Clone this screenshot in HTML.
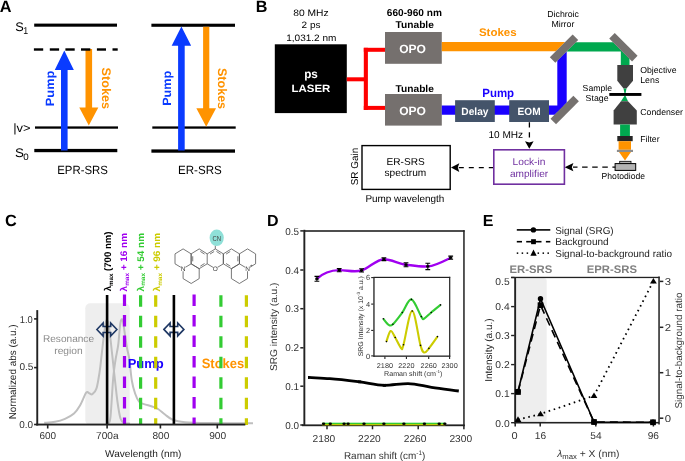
<!DOCTYPE html>
<html><head><meta charset="utf-8"><style>
html,body{margin:0;padding:0;background:#fff;}
svg{display:block;font-family:"Liberation Sans", sans-serif;will-change:transform;text-rendering:geometricPrecision;}
</style></head><body>
<svg width="685" height="461" viewBox="0 0 685 461">
<rect width="685" height="461" fill="#fff"/>
<text x="-0.20" y="11.80" font-size="16.3" font-weight="bold" fill="#000" text-anchor="start" >A</text>
<rect x="34.20" y="23.60" width="82.80" height="3.10" fill="#000" />
<rect x="35.00" y="126.40" width="83.00" height="2.30" fill="#000" />
<rect x="34.30" y="148.90" width="83.00" height="3.30" fill="#000" />
<polygon points="64.30,50.40 73.85,69.90 67.60,69.90 67.60,150.50 61.00,150.50 61.00,69.90 54.75,69.90" fill="#0a3bff" />
<polygon points="85.50,49.00 92.10,49.00 92.10,107.50 98.35,107.50 88.80,125.50 79.25,107.50 85.50,107.50" fill="#ff9300" />
<rect x="33.90" y="48.30" width="9.30" height="2.40" fill="#000" />
<rect x="49.80" y="48.30" width="9.30" height="2.40" fill="#000" />
<rect x="65.40" y="48.30" width="9.30" height="2.40" fill="#000" />
<rect x="81.00" y="48.30" width="9.30" height="2.40" fill="#000" />
<rect x="96.90" y="48.30" width="9.10" height="2.40" fill="#000" />
<rect x="112.50" y="48.30" width="5.20" height="2.40" fill="#000" />
<text transform="translate(53.75,88.45) rotate(-90)" x="0" y="0" font-size="12" font-weight="bold" fill="#0a3bff" text-anchor="middle" textLength="35.50" lengthAdjust="spacingAndGlyphs" >Pump</text>
<text transform="translate(101.60,88.30) rotate(90)" x="0" y="0" font-size="12.5" font-weight="bold" fill="#ff9300" text-anchor="middle" textLength="41.60" lengthAdjust="spacingAndGlyphs" >Stokes</text>
<text x="19.50" y="30.50" font-size="12.5" font-weight="normal" fill="#000" text-anchor="middle" textLength="8.52" lengthAdjust="spacingAndGlyphs" >S</text>
<text x="25.60" y="33.80" font-size="10" font-weight="normal" fill="#000" text-anchor="middle" textLength="4.90" lengthAdjust="spacingAndGlyphs" >1</text>
<text x="21.85" y="132.30" font-size="12" font-weight="normal" fill="#000" text-anchor="middle" textLength="17.38" lengthAdjust="spacingAndGlyphs" >|v&gt;</text>
<text x="19.40" y="157.20" font-size="12.5" font-weight="normal" fill="#000" text-anchor="middle" textLength="8.93" lengthAdjust="spacingAndGlyphs" >S</text>
<text x="26.00" y="160.00" font-size="9.3" font-weight="normal" fill="#000" text-anchor="middle" textLength="5.44" lengthAdjust="spacingAndGlyphs" >0</text>
<text x="82.60" y="173.50" font-size="12" font-weight="normal" fill="#000" text-anchor="middle" textLength="50.68" lengthAdjust="spacingAndGlyphs" >EPR-SRS</text>
<rect x="151.40" y="23.70" width="83.60" height="3.10" fill="#000" />
<rect x="152.30" y="126.40" width="83.40" height="2.30" fill="#000" />
<rect x="151.40" y="149.40" width="83.60" height="3.30" fill="#000" />
<polygon points="181.40,26.60 191.15,45.70 184.70,45.70 184.70,150.50 178.10,150.50 178.10,45.70 171.65,45.70" fill="#0a3bff" />
<polygon points="203.10,26.80 209.30,26.80 209.30,108.30 216.05,108.30 206.20,126.70 196.35,108.30 203.10,108.30" fill="#ff9300" />
<text transform="translate(171.00,88.30) rotate(-90)" x="0" y="0" font-size="12" font-weight="bold" fill="#0a3bff" text-anchor="middle" textLength="35.00" lengthAdjust="spacingAndGlyphs" >Pump</text>
<text transform="translate(218.40,88.50) rotate(90)" x="0" y="0" font-size="12.5" font-weight="bold" fill="#ff9300" text-anchor="middle" textLength="41.20" lengthAdjust="spacingAndGlyphs" >Stokes</text>
<text x="199.85" y="173.50" font-size="12" font-weight="normal" fill="#000" text-anchor="middle" textLength="43.78" lengthAdjust="spacingAndGlyphs" >ER-SRS</text>
<text x="255.70" y="11.80" font-size="16.2" font-weight="bold" fill="#000" text-anchor="start" >B</text>
<text x="310.95" y="16.00" font-size="9.3" font-weight="normal" fill="#000" text-anchor="middle" textLength="35.34" lengthAdjust="spacingAndGlyphs" >80 MHz</text>
<text x="311.00" y="28.30" font-size="9.3" font-weight="normal" fill="#000" text-anchor="middle" textLength="18.84" lengthAdjust="spacingAndGlyphs" >2 ps</text>
<text x="311.30" y="40.60" font-size="9.3" font-weight="normal" fill="#000" text-anchor="middle" textLength="50.24" lengthAdjust="spacingAndGlyphs" >1,031.2 nm</text>
<rect x="274.80" y="44.30" width="72.00" height="68.80" fill="#000" />
<text x="311.00" y="78.30" font-size="12" font-weight="bold" fill="#fff" text-anchor="middle" textLength="13.68" lengthAdjust="spacingAndGlyphs" >ps</text>
<text x="310.90" y="91.90" font-size="10.6" font-weight="bold" fill="#fff" text-anchor="middle" textLength="38.75" lengthAdjust="spacingAndGlyphs" >LASER</text>
<rect x="346.80" y="77.30" width="19.00" height="4.00" fill="#ff0000" />
<rect x="363.80" y="47.80" width="4.10" height="62.20" fill="#ff0000" />
<rect x="363.80" y="47.80" width="21.20" height="4.00" fill="#ff0000" />
<rect x="363.80" y="105.90" width="21.20" height="4.00" fill="#ff0000" />
<rect x="385.00" y="32.00" width="56.80" height="31.80" fill="#75706e" />
<rect x="385.00" y="94.00" width="56.80" height="31.60" fill="#75706e" />
<text x="412.55" y="53.00" font-size="12" font-weight="bold" fill="#fff" text-anchor="middle" textLength="26.78" lengthAdjust="spacingAndGlyphs" >OPO</text>
<text x="412.55" y="114.90" font-size="12" font-weight="bold" fill="#fff" text-anchor="middle" textLength="26.78" lengthAdjust="spacingAndGlyphs" >OPO</text>
<text x="414.70" y="28.00" font-size="10" font-weight="bold" fill="#000" text-anchor="middle" textLength="38.30" lengthAdjust="spacingAndGlyphs" >Tunable</text>
<text x="414.40" y="16.00" font-size="10" font-weight="bold" fill="#000" text-anchor="middle" textLength="55.10" lengthAdjust="spacingAndGlyphs" >660-960 nm</text>
<text x="414.70" y="91.90" font-size="10" font-weight="bold" fill="#000" text-anchor="middle" textLength="38.30" lengthAdjust="spacingAndGlyphs" >Tunable</text>
<polygon points="441.80,42.10 565.20,42.10 556.00,51.30 441.80,51.30" fill="#ff9300" />
<polygon points="441.80,105.40 564.00,105.40 554.70,114.70 441.80,114.70" fill="#1a00ff" />
<polygon points="557.30,60.60 566.70,51.20 566.70,102.70 557.30,112.10" fill="#1a00ff" />
<polygon points="575.70,42.20 613.10,42.20 622.40,51.50 566.40,51.50" fill="#00a84f" />
<polygon points="620.80,49.90 629.50,58.60 629.50,65.50 620.80,65.50" fill="#00a84f" />
<text x="497.80" y="36.30" font-size="11" font-weight="bold" fill="#ff9300" text-anchor="middle" textLength="37.79" lengthAdjust="spacingAndGlyphs" >Stokes</text>
<text x="498.20" y="96.60" font-size="11.9" font-weight="bold" fill="#1a00ff" text-anchor="middle" textLength="31.87" lengthAdjust="spacingAndGlyphs" >Pump</text>
<rect x="455.10" y="100.20" width="39.70" height="21.80" fill="#44546a" />
<rect x="509.20" y="100.20" width="39.80" height="21.80" fill="#44546a" />
<text x="474.90" y="114.50" font-size="10.5" font-weight="bold" fill="#fff" text-anchor="middle" textLength="27.14" lengthAdjust="spacingAndGlyphs" >Delay</text>
<text x="529.05" y="115.00" font-size="10.5" font-weight="bold" fill="#fff" text-anchor="middle" textLength="23.05" lengthAdjust="spacingAndGlyphs" >EOM</text>
<rect x="-16.15" y="-3.9" width="32.3" height="7.8" fill="#75716f" transform="translate(564,48.6) rotate(-45)"/>
<rect x="-16.15" y="-3.9" width="32.3" height="7.8" fill="#75716f" transform="translate(623.4,47.2) rotate(45)"/>
<rect x="-16.15" y="-3.9" width="32.3" height="7.8" fill="#75716f" transform="translate(564.7,110.0) rotate(-45)"/>
<text x="563.10" y="16.60" font-size="8.7" font-weight="normal" fill="#000" text-anchor="middle" textLength="31.58" lengthAdjust="spacingAndGlyphs" >Dichroic</text>
<text x="562.90" y="26.50" font-size="8.7" font-weight="normal" fill="#000" text-anchor="middle" textLength="22.98" lengthAdjust="spacingAndGlyphs" >Mirror</text>
<path d="M617.3,65.1 L633,65.1 L633,80.7 L626.5,88.6 L623.5,88.6 L617.3,80.7 Z" stroke="none" stroke-width="1" fill="#404040" />
<polygon points="623.50,88.60 626.50,88.60 625.60,93.00 624.40,93.00" fill="#00a84f" />
<rect x="609.30" y="93.00" width="32.10" height="2.90" fill="#000" />
<polygon points="624.40,95.90 625.60,95.90 628.00,101.30 621.00,101.30" fill="#00a84f" />
<polygon points="621.00,101.30 628.00,101.30 636.80,110.40 636.80,124.50 613.60,124.50 613.60,110.40" fill="#404040" />
<rect x="620.10" y="124.50" width="9.80" height="11.50" fill="#00a84f" />
<rect x="617.30" y="136.00" width="15.40" height="5.20" fill="#262626" />
<rect x="618.60" y="141.20" width="12.40" height="8.60" fill="#ff9300" />
<rect x="616.90" y="149.80" width="16.10" height="2.20" fill="#8c8c8c" />
<polygon points="619.00,152.00 631.00,152.00 625.00,160.50" fill="#ff9300" />
<rect x="619.70" y="161.30" width="11.30" height="2.40" fill="#b3b3b3" stroke="#000" stroke-width="0.8"/>
<rect x="615.10" y="163.60" width="20.60" height="6.80" fill="#b3b3b3" stroke="#000" stroke-width="1"/>
<text x="658.35" y="72.90" font-size="8.7" font-weight="normal" fill="#000" text-anchor="middle" textLength="36.28" lengthAdjust="spacingAndGlyphs" >Objective</text>
<text x="649.75" y="82.90" font-size="8.7" font-weight="normal" fill="#000" text-anchor="middle" textLength="19.08" lengthAdjust="spacingAndGlyphs" >Lens</text>
<text x="597.35" y="90.60" font-size="8.7" font-weight="normal" fill="#000" text-anchor="middle" textLength="29.48" lengthAdjust="spacingAndGlyphs" >Sample</text>
<text x="597.10" y="100.90" font-size="8.7" font-weight="normal" fill="#000" text-anchor="middle" textLength="22.98" lengthAdjust="spacingAndGlyphs" >Stage</text>
<text x="661.65" y="115.10" font-size="8.7" font-weight="normal" fill="#000" text-anchor="middle" textLength="42.68" lengthAdjust="spacingAndGlyphs" >Condenser</text>
<text x="649.95" y="141.80" font-size="8.7" font-weight="normal" fill="#000" text-anchor="middle" textLength="19.28" lengthAdjust="spacingAndGlyphs" >Filter</text>
<text x="623.35" y="178.50" font-size="8.7" font-weight="normal" fill="#000" text-anchor="middle" textLength="43.48" lengthAdjust="spacingAndGlyphs" >Photodiode</text>
<line x1="615.30" y1="167.20" x2="573.00" y2="167.20" stroke="#000" stroke-width="1.3" stroke-dasharray="5.5 4.6" stroke-dashoffset="2.6"/>
<polygon points="564.60,167.20 573.40,163.10 571.80,167.20 573.40,171.30" fill="#000" />
<line x1="493.80" y1="167.60" x2="458.50" y2="167.60" stroke="#000" stroke-width="1.3" stroke-dasharray="5 5"/>
<polygon points="451.00,167.60 459.30,163.30 457.80,167.60 459.30,171.90" fill="#000" />
<line x1="529.40" y1="122.30" x2="529.40" y2="141.00" stroke="#000" stroke-width="1.3" stroke-dasharray="5.2 4.8"/>
<polygon points="529.30,148.80 525.00,141.30 529.30,142.60 533.60,141.30" fill="#000" />
<text x="505.80" y="137.70" font-size="10" font-weight="normal" fill="#000" text-anchor="middle" textLength="34.70" lengthAdjust="spacingAndGlyphs" >10 MHz</text>
<rect x="493.80" y="149.80" width="70.60" height="34.40" fill="none" stroke="#7030a0" stroke-width="1.6"/>
<text x="529.00" y="164.50" font-size="10" font-weight="normal" fill="#7030a0" text-anchor="middle" textLength="32.90" lengthAdjust="spacingAndGlyphs" >Lock-in</text>
<text x="529.05" y="176.50" font-size="10" font-weight="normal" fill="#7030a0" text-anchor="middle" textLength="38.20" lengthAdjust="spacingAndGlyphs" >amplifier</text>
<rect x="362.00" y="145.60" width="88.20" height="43.80" fill="none" stroke="#000" stroke-width="1.4"/>
<text x="405.60" y="164.90" font-size="10" font-weight="normal" fill="#000" text-anchor="middle" textLength="38.30" lengthAdjust="spacingAndGlyphs" >ER-SRS</text>
<text x="405.40" y="175.50" font-size="10" font-weight="normal" fill="#000" text-anchor="middle" textLength="41.70" lengthAdjust="spacingAndGlyphs" >spectrum</text>
<text transform="translate(358.00,166.50) rotate(-90)" x="0" y="0" font-size="10" font-weight="normal" fill="#000" text-anchor="middle" textLength="37.50" lengthAdjust="spacingAndGlyphs" >SR Gain</text>
<text x="404.90" y="202.00" font-size="10" font-weight="normal" fill="#000" text-anchor="middle" textLength="78.90" lengthAdjust="spacingAndGlyphs" >Pump wavelength</text>
<text x="5.10" y="225.70" font-size="16.3" font-weight="bold" fill="#000" text-anchor="start" >C</text>
<rect x="85.3" y="303.2" width="44.4" height="122" rx="5" fill="#eeeeee"/>
<path d="M44.20,422.80C46.00,422.63 51.53,422.47 55.00,421.80C58.47,421.13 61.83,420.18 65.00,418.80C68.17,417.42 71.50,415.72 74.00,413.50C76.50,411.28 77.97,408.97 80.00,405.50C82.03,402.03 84.65,394.73 86.20,392.70C87.75,390.67 88.27,393.05 89.30,393.30C90.33,393.55 91.20,395.02 92.40,394.20C93.60,393.38 95.30,392.12 96.50,388.40C97.70,384.68 98.75,377.40 99.60,371.90C100.45,366.40 100.92,361.25 101.60,355.40C102.28,349.55 103.03,342.12 103.70,336.80C104.37,331.48 105.02,326.25 105.60,323.50C106.18,320.75 106.67,319.88 107.20,320.30C107.73,320.72 108.23,322.72 108.80,326.00C109.37,329.28 109.67,331.83 110.60,340.00C111.53,348.17 113.25,364.67 114.40,375.00C115.55,385.33 116.48,394.75 117.50,402.00C118.52,409.25 119.42,415.03 120.50,418.50C121.58,421.97 122.42,421.95 124.00,422.80C125.58,423.65 129.00,423.47 130.00,423.60" stroke="#bfbfbf" stroke-width="2.0" fill="none" />
<path d="M108.80,423.40C109.10,422.17 109.87,423.57 110.60,416.00C111.33,408.43 112.38,387.33 113.20,378.00C114.02,368.67 114.67,365.50 115.50,360.00C116.33,354.50 117.45,350.67 118.20,345.00C118.95,339.33 119.47,330.23 120.00,326.00C120.53,321.77 120.90,320.35 121.40,319.60C121.90,318.85 122.40,318.93 123.00,321.50C123.60,324.07 124.33,330.58 125.00,335.00C125.67,339.42 126.27,343.93 127.00,348.00C127.73,352.07 128.60,353.98 129.40,359.40C130.20,364.82 130.85,374.82 131.80,380.50C132.75,386.18 133.88,389.97 135.10,393.50C136.32,397.03 137.62,399.93 139.10,401.70C140.58,403.47 141.83,403.30 144.00,404.10C146.17,404.90 149.77,405.68 152.10,406.50C154.43,407.32 155.85,407.67 158.00,409.00C160.15,410.33 162.55,412.70 165.00,414.50C167.45,416.30 169.37,418.52 172.70,419.80C176.03,421.08 178.78,421.67 185.00,422.20C191.22,422.73 198.67,422.83 210.00,423.00C221.33,423.17 245.83,423.17 253.00,423.20" stroke="#bfbfbf" stroke-width="2.0" fill="none" />
<text x="145.75" y="367.80" font-size="13.2" font-weight="bold" fill="#1a00ff" text-anchor="middle" textLength="36.09" lengthAdjust="spacingAndGlyphs" >Pump</text>
<text x="222.95" y="368.10" font-size="13.5" font-weight="bold" fill="#ff9300" text-anchor="middle" textLength="42.51" lengthAdjust="spacingAndGlyphs" >Stokes</text>
<line x1="124.50" y1="294.60" x2="124.50" y2="425.00" stroke="#a000f0" stroke-width="3.2" stroke-dasharray="11.4 9.1" stroke-dashoffset="0"/>
<line x1="140.60" y1="295.30" x2="140.60" y2="425.00" stroke="#33cc33" stroke-width="3.2" stroke-dasharray="11.4 9.1" stroke-dashoffset="0"/>
<line x1="155.70" y1="295.30" x2="155.70" y2="425.00" stroke="#cccc00" stroke-width="3.2" stroke-dasharray="11.4 9.1" stroke-dashoffset="0"/>
<line x1="194.10" y1="294.60" x2="194.10" y2="425.00" stroke="#a000f0" stroke-width="3.2" stroke-dasharray="11.4 9.1" stroke-dashoffset="0"/>
<line x1="220.90" y1="295.30" x2="220.90" y2="425.00" stroke="#33cc33" stroke-width="3.2" stroke-dasharray="11.4 9.1" stroke-dashoffset="0"/>
<line x1="246.40" y1="295.30" x2="246.40" y2="425.00" stroke="#cccc00" stroke-width="3.2" stroke-dasharray="11.4 9.1" stroke-dashoffset="0"/>
<path d="M96.9,329.5 L103.10000000000001,323.0 L103.10000000000001,326.55 L110.7,326.55 L110.7,323.0 L116.9,329.5 L110.7,336.0 L110.7,332.45 L103.10000000000001,332.45 L103.10000000000001,336.0 Z" stroke="#1f3864" stroke-width="1.6" fill="none" stroke-linejoin="miter" stroke-miterlimit="3"/>
<path d="M163.9,329.4 L170.1,322.9 L170.1,326.45 L177.70000000000002,326.45 L177.70000000000002,322.9 L183.9,329.4 L177.70000000000002,335.9 L177.70000000000002,332.34999999999997 L170.1,332.34999999999997 L170.1,335.9 Z" stroke="#1f3864" stroke-width="1.6" fill="none" stroke-linejoin="miter" stroke-miterlimit="3"/>
<rect x="105.80" y="295.00" width="2.60" height="130.00" fill="#000" />
<rect x="172.60" y="295.00" width="2.60" height="130.00" fill="#000" />
<rect x="36.30" y="310.10" width="1.90" height="115.40" fill="#222" />
<rect x="36.30" y="423.60" width="209.00" height="1.90" fill="#222" />
<rect x="34.10" y="318.10" width="3.00" height="1.60" fill="#222" />
<rect x="34.10" y="366.80" width="3.00" height="1.60" fill="#222" />
<rect x="34.10" y="423.70" width="3.00" height="1.60" fill="#222" />
<rect x="46.90" y="425.00" width="1.60" height="3.50" fill="#222" />
<rect x="106.30" y="425.00" width="1.60" height="3.50" fill="#222" />
<rect x="159.60" y="425.00" width="1.60" height="3.50" fill="#222" />
<rect x="216.50" y="425.00" width="1.60" height="3.50" fill="#222" />
<text x="26.25" y="322.70" font-size="10" font-weight="normal" fill="#333" text-anchor="middle" textLength="13.00" lengthAdjust="spacingAndGlyphs" >1.0</text>
<text x="26.45" y="370.30" font-size="10" font-weight="normal" fill="#333" text-anchor="middle" textLength="14.00" lengthAdjust="spacingAndGlyphs" >0.5</text>
<text x="26.25" y="428.40" font-size="10" font-weight="normal" fill="#333" text-anchor="middle" textLength="13.80" lengthAdjust="spacingAndGlyphs" >0.0</text>
<text x="47.75" y="439.30" font-size="10" font-weight="normal" fill="#333" text-anchor="middle" textLength="16.60" lengthAdjust="spacingAndGlyphs" >600</text>
<text x="107.30" y="439.30" font-size="10" font-weight="normal" fill="#333" text-anchor="middle" textLength="22.50" lengthAdjust="spacingAndGlyphs" >700a</text>
<text x="160.90" y="438.60" font-size="10" font-weight="normal" fill="#333" text-anchor="middle" textLength="16.90" lengthAdjust="spacingAndGlyphs" >800</text>
<text x="217.65" y="438.60" font-size="10" font-weight="normal" fill="#333" text-anchor="middle" textLength="17.00" lengthAdjust="spacingAndGlyphs" >900</text>
<text x="143.25" y="456.80" font-size="10" font-weight="normal" fill="#222" text-anchor="middle" textLength="76.40" lengthAdjust="spacingAndGlyphs" >Wavelength (nm)</text>
<text transform="translate(15.60,371.85) rotate(-90)" x="0" y="0" font-size="10" font-weight="normal" fill="#222" text-anchor="middle" textLength="95.00" lengthAdjust="spacingAndGlyphs" >Normalized abs (a.u.)</text>
<text x="68.50" y="341.80" font-size="10" font-weight="normal" fill="#8c8c8c" text-anchor="middle" textLength="51.10" lengthAdjust="spacingAndGlyphs" >Resonance</text>
<text x="68.50" y="353.50" font-size="10" font-weight="normal" fill="#8c8c8c" text-anchor="middle" textLength="28.50" lengthAdjust="spacingAndGlyphs" >region</text>
<text transform="translate(111.40,261.40) rotate(-90)" x="0" y="0" font-size="9.6" font-weight="bold" fill="#000" text-anchor="middle" textLength="59.80" lengthAdjust="spacingAndGlyphs" >λ<tspan font-size="6.2" dy="1.6">max</tspan><tspan dy="-1.6"> (700 nm)</tspan></text>
<text transform="translate(127.20,262.20) rotate(-90)" x="0" y="0" font-size="9.6" font-weight="bold" fill="#a000f0" text-anchor="middle" textLength="58.40" lengthAdjust="spacingAndGlyphs" >λ<tspan font-size="6.2" dy="1.6">max</tspan><tspan dy="-1.6"> + 16 nm</tspan></text>
<text transform="translate(143.80,262.20) rotate(-90)" x="0" y="0" font-size="9.6" font-weight="bold" fill="#33cc33" text-anchor="middle" textLength="58.40" lengthAdjust="spacingAndGlyphs" >λ<tspan font-size="6.2" dy="1.6">max</tspan><tspan dy="-1.6"> + 54 nm</tspan></text>
<text transform="translate(160.20,262.20) rotate(-90)" x="0" y="0" font-size="9.6" font-weight="bold" fill="#cccc00" text-anchor="middle" textLength="58.40" lengthAdjust="spacingAndGlyphs" >λ<tspan font-size="6.2" dy="1.6">max</tspan><tspan dy="-1.6"> + 96 nm</tspan></text>
<path d="M199.2,268.7L199.2,278.6M215.3,268.7L223.4,263.8M231.4,268.7L239.4,263.8M239.4,283.5L247.5,278.6M191.1,253.9L199.2,248.9M223.3,253.9L231.4,248.9M207.2,253.9L207.2,263.8M207.2,263.8L215.3,268.7M175.0,253.9L183.1,248.9M191.2,263.8L199.2,268.7M183.1,268.7L183.1,278.6M239.5,253.9L239.5,263.8M231.4,248.9L239.5,253.9M191.2,283.5L199.2,278.6M247.5,248.9L255.6,253.9M239.4,253.9L239.4,263.8M247.5,268.7L255.6,263.8M231.4,268.7L239.5,263.8M191.2,253.9L191.2,263.8M183.1,248.9L191.2,253.9M199.2,268.7L207.2,263.8M247.5,268.7L247.5,278.6M231.4,268.7L231.4,278.6M255.6,253.9L255.6,263.8M223.3,263.8L231.4,268.7M223.4,253.9L223.4,263.8M175.0,263.8L183.1,268.7M191.1,253.9L191.1,263.8M183.1,278.6L191.2,283.5M239.4,253.9L247.5,248.9M223.3,253.9L223.3,263.8M231.4,278.6L239.4,283.5M183.1,268.7L191.2,263.8M175.0,253.9L175.0,263.8M191.1,263.8L199.2,268.7M239.4,263.8L247.5,268.7M199.2,248.9L207.2,253.9M215.3,248.9L223.4,253.9M207.2,253.9L215.3,248.9" stroke="#555" stroke-width="0.8" fill="none" />
<path d="M200.37,251.47L204.52,254.08M204.52,263.52L200.37,266.13M192.72,261.35L192.72,256.25M230.23,251.47L226.08,254.08M230.23,266.13L226.08,263.52M237.88,256.25L237.88,261.35M216.47,251.47L220.62,254.08M209.98,254.08L214.13,251.47" stroke="#555" stroke-width="0.8" fill="none" />
<line x1="215.30" y1="248.90" x2="215.30" y2="245.50" stroke="#555" stroke-width="0.8" />
<ellipse cx="216.7" cy="237.8" rx="7.1" ry="8.3" fill="#8fe0d8"/>
<text x="216.70" y="241.20" font-size="7.3" font-weight="normal" fill="#444" text-anchor="middle" textLength="8.60" lengthAdjust="spacingAndGlyphs" >CN</text>
<circle cx="183.1" cy="268.7" r="2.6" fill="#fff"/>
<text x="183.10" y="271.00" font-size="6.5" font-weight="normal" fill="#444" text-anchor="middle" >N</text>
<circle cx="215.3" cy="268.7" r="2.6" fill="#fff"/>
<text x="215.30" y="271.00" font-size="6.5" font-weight="normal" fill="#444" text-anchor="middle" >O</text>
<circle cx="247.5" cy="268.7" r="2.6" fill="#fff"/>
<text x="247.50" y="271.00" font-size="6.5" font-weight="normal" fill="#444" text-anchor="middle" >N</text>
<text x="251.30" y="267.30" font-size="4.5" font-weight="normal" fill="#444" text-anchor="middle" >+</text>
<text x="267.00" y="225.80" font-size="16" font-weight="bold" fill="#000" text-anchor="start" >D</text>
<rect x="303.40" y="229.80" width="1.90" height="195.90" fill="#222" />
<rect x="303.40" y="230.20" width="161.20" height="1.60" fill="#222" />
<rect x="463.20" y="230.20" width="1.50" height="195.90" fill="#222" />
<rect x="302.00" y="424.40" width="162.70" height="1.80" fill="#222" />
<rect x="300.30" y="230.15" width="3.20" height="1.50" fill="#222" />
<text x="292.25" y="234.50" font-size="10" font-weight="normal" fill="#333" text-anchor="middle" textLength="13.80" lengthAdjust="spacingAndGlyphs" >0.5</text>
<rect x="300.30" y="269.25" width="3.20" height="1.50" fill="#222" />
<text x="292.25" y="273.60" font-size="10" font-weight="normal" fill="#333" text-anchor="middle" textLength="13.80" lengthAdjust="spacingAndGlyphs" >0.4</text>
<rect x="300.30" y="307.95" width="3.20" height="1.50" fill="#222" />
<text x="292.25" y="312.30" font-size="10" font-weight="normal" fill="#333" text-anchor="middle" textLength="13.80" lengthAdjust="spacingAndGlyphs" >0.3</text>
<rect x="300.30" y="347.05" width="3.20" height="1.50" fill="#222" />
<text x="292.25" y="351.40" font-size="10" font-weight="normal" fill="#333" text-anchor="middle" textLength="13.80" lengthAdjust="spacingAndGlyphs" >0.2</text>
<rect x="300.30" y="385.45" width="3.20" height="1.50" fill="#222" />
<text x="292.25" y="389.80" font-size="10" font-weight="normal" fill="#333" text-anchor="middle" textLength="13.80" lengthAdjust="spacingAndGlyphs" >0.1</text>
<rect x="300.30" y="424.25" width="3.20" height="1.50" fill="#222" />
<text x="292.25" y="428.60" font-size="10" font-weight="normal" fill="#333" text-anchor="middle" textLength="13.80" lengthAdjust="spacingAndGlyphs" >0.0</text>
<rect x="326.25" y="425.00" width="1.50" height="4.30" fill="#222" />
<text x="323.90" y="441.60" font-size="10" font-weight="normal" fill="#333" text-anchor="middle" textLength="22.70" lengthAdjust="spacingAndGlyphs" >2180</text>
<rect x="371.75" y="425.00" width="1.50" height="4.30" fill="#222" />
<text x="369.40" y="441.60" font-size="10" font-weight="normal" fill="#333" text-anchor="middle" textLength="22.70" lengthAdjust="spacingAndGlyphs" >2220</text>
<rect x="417.45" y="425.00" width="1.50" height="4.30" fill="#222" />
<text x="415.10" y="441.60" font-size="10" font-weight="normal" fill="#333" text-anchor="middle" textLength="22.70" lengthAdjust="spacingAndGlyphs" >2260</text>
<rect x="463.15" y="425.00" width="1.50" height="4.30" fill="#222" />
<text x="460.80" y="441.60" font-size="10" font-weight="normal" fill="#333" text-anchor="middle" textLength="22.70" lengthAdjust="spacingAndGlyphs" >2300</text>
<text x="384.70" y="458.50" font-size="10" font-weight="normal" fill="#333" text-anchor="middle" textLength="81.50" lengthAdjust="spacingAndGlyphs" >Raman shift (cm<tspan font-size="6.5" dy="-3.5">-1</tspan><tspan dy="3.5">)</tspan></text>
<text transform="translate(277.10,326.80) rotate(-90)" x="0" y="0" font-size="9.8" font-weight="normal" fill="#333" text-anchor="middle" textLength="88.50" lengthAdjust="spacingAndGlyphs" >SRG intensity (a.u.)</text>
<path d="M316.90,278.80C324.33,271.74 331.77,270.25 339.20,270.10C346.67,269.95 354.13,272.64 361.60,270.40C369.03,268.17 376.47,259.20 383.90,259.20C391.27,259.20 398.63,263.82 406.00,264.70C413.27,265.57 420.53,266.98 427.80,266.40C435.43,265.79 443.07,261.52 450.70,257.70" stroke="#a000f0" stroke-width="2.4" fill="none" />
<path d="M316.9,276.40000000000003L316.9,281.2M314.5,276.40000000000003L319.29999999999995,276.40000000000003M314.5,281.2L319.29999999999995,281.2" stroke="#000" stroke-width="1.1" fill="none" />
<rect x="315.30" y="277.70" width="3.20" height="2.20" fill="#000" />
<path d="M339.2,268.5L339.2,271.70000000000005M336.8,268.5L341.59999999999997,268.5M336.8,271.70000000000005L341.59999999999997,271.70000000000005" stroke="#000" stroke-width="1.1" fill="none" />
<rect x="337.60" y="269.00" width="3.20" height="2.20" fill="#000" />
<path d="M361.6,268.79999999999995L361.6,272.0M359.20000000000005,268.79999999999995L364.0,268.79999999999995M359.20000000000005,272.0L364.0,272.0" stroke="#000" stroke-width="1.1" fill="none" />
<rect x="360.00" y="269.30" width="3.20" height="2.20" fill="#000" />
<path d="M383.9,257.8L383.9,260.59999999999997M381.5,257.8L386.29999999999995,257.8M381.5,260.59999999999997L386.29999999999995,260.59999999999997" stroke="#000" stroke-width="1.1" fill="none" />
<rect x="382.30" y="258.10" width="3.20" height="2.20" fill="#000" />
<path d="M406,262.7L406,266.7M403.6,262.7L408.4,262.7M403.6,266.7L408.4,266.7" stroke="#000" stroke-width="1.1" fill="none" />
<rect x="404.40" y="263.60" width="3.20" height="2.20" fill="#000" />
<path d="M427.8,263.2L427.8,269.59999999999997M425.40000000000003,263.2L430.2,263.2M425.40000000000003,269.59999999999997L430.2,269.59999999999997" stroke="#000" stroke-width="1.1" fill="none" />
<rect x="426.20" y="265.30" width="3.20" height="2.20" fill="#000" />
<path d="M450.7,256.09999999999997L450.7,259.3M448.3,256.09999999999997L453.09999999999997,256.09999999999997M448.3,259.3L453.09999999999997,259.3" stroke="#000" stroke-width="1.1" fill="none" />
<rect x="449.10" y="256.60" width="3.20" height="2.20" fill="#000" />
<path d="M308.70,377.40C315.73,377.80 322.77,378.09 329.80,378.60C339.73,379.33 349.67,380.58 359.60,381.80C367.87,382.81 376.13,385.30 384.40,385.30C392.27,385.30 400.13,383.60 408.00,383.60C415.83,383.60 423.67,386.16 431.50,387.30C440.60,388.63 449.70,389.77 458.80,391.00" stroke="#000" stroke-width="2.8" fill="none" />
<rect x="308.00" y="376.00" width="1.50" height="3.00" fill="#000" />
<rect x="358.00" y="380.40" width="3.20" height="2.80" fill="#000" />
<rect x="382.80" y="383.90" width="3.20" height="2.80" fill="#000" />
<rect x="322.10" y="423.90" width="123.20" height="1.40" fill="#cccc00" />
<rect x="322.10" y="422.70" width="123.20" height="1.40" fill="#33cc33" />
<ellipse cx="323.6" cy="423.8" rx="1.7" ry="1.2" fill="#000"/>
<ellipse cx="330.3" cy="423.8" rx="1.7" ry="1.2" fill="#000"/>
<ellipse cx="344.1" cy="423.8" rx="1.7" ry="1.2" fill="#000"/>
<ellipse cx="348.1" cy="423.8" rx="1.7" ry="1.2" fill="#000"/>
<ellipse cx="364" cy="423.8" rx="1.7" ry="1.2" fill="#000"/>
<ellipse cx="383.9" cy="423.8" rx="1.7" ry="1.2" fill="#000"/>
<ellipse cx="403.9" cy="423.8" rx="1.7" ry="1.2" fill="#000"/>
<ellipse cx="424.4" cy="423.8" rx="1.7" ry="1.2" fill="#000"/>
<ellipse cx="439.2" cy="423.8" rx="1.7" ry="1.2" fill="#000"/>
<ellipse cx="444.8" cy="423.8" rx="1.7" ry="1.2" fill="#000"/>
<rect x="373.30" y="277.00" width="1.30" height="79.80" fill="#222" />
<rect x="373.30" y="276.80" width="76.90" height="1.20" fill="#222" />
<rect x="449.10" y="276.80" width="1.20" height="80.00" fill="#222" />
<rect x="373.30" y="355.50" width="77.00" height="1.30" fill="#222" />
<rect x="371.20" y="277.05" width="2.20" height="1.10" fill="#222" />
<text x="370.20" y="280.20" font-size="7.4" font-weight="normal" fill="#333" text-anchor="end" >6</text>
<rect x="371.20" y="303.55" width="2.20" height="1.10" fill="#222" />
<text x="370.20" y="306.70" font-size="7.4" font-weight="normal" fill="#333" text-anchor="end" >4</text>
<rect x="371.20" y="329.85" width="2.20" height="1.10" fill="#222" />
<text x="370.20" y="333.00" font-size="7.4" font-weight="normal" fill="#333" text-anchor="end" >2</text>
<rect x="371.20" y="355.35" width="2.20" height="1.10" fill="#222" />
<text x="370.20" y="358.50" font-size="7.4" font-weight="normal" fill="#333" text-anchor="end" >0</text>
<rect x="384.35" y="356.50" width="1.10" height="2.50" fill="#222" />
<text x="384.90" y="368.00" font-size="7" font-weight="normal" fill="#333" text-anchor="middle" textLength="16.20" lengthAdjust="spacingAndGlyphs" >2180</text>
<rect x="405.85" y="356.50" width="1.10" height="2.50" fill="#222" />
<text x="406.40" y="368.00" font-size="7" font-weight="normal" fill="#333" text-anchor="middle" textLength="16.20" lengthAdjust="spacingAndGlyphs" >2220</text>
<rect x="428.15" y="356.50" width="1.10" height="2.50" fill="#222" />
<text x="428.70" y="368.00" font-size="7" font-weight="normal" fill="#333" text-anchor="middle" textLength="16.20" lengthAdjust="spacingAndGlyphs" >2260</text>
<rect x="449.05" y="356.50" width="1.10" height="2.50" fill="#222" />
<text x="449.60" y="368.00" font-size="7" font-weight="normal" fill="#333" text-anchor="middle" textLength="16.20" lengthAdjust="spacingAndGlyphs" >2300</text>
<text x="384.00" y="375.50" font-size="7" font-weight="normal" fill="#333" text-anchor="start" textLength="58.50" lengthAdjust="spacingAndGlyphs" >Raman shift (cm<tspan font-size="4.5" dy="-2.5">-1</tspan><tspan dy="2.5">)</tspan></text>
<text transform="translate(362.70,316.20) rotate(-90)" x="0" y="0" font-size="6.8" font-weight="normal" fill="#2a2a2a" text-anchor="middle" textLength="80.30" lengthAdjust="spacingAndGlyphs" >SRG Intensity (x 10<tspan font-size="4.6" dy="-2.5">-3</tspan><tspan dy="2.5"> a.u.)</tspan></text>
<path d="M383.30,318.80C384.20,319.82 387.10,324.00 388.70,324.90C390.30,325.80 390.63,326.27 392.90,324.20C395.17,322.13 399.22,316.63 402.30,312.50C405.38,308.37 408.23,298.72 411.40,299.40C414.57,300.08 419.20,313.38 421.30,316.60C423.40,319.82 422.35,319.38 424.00,318.70C425.65,318.02 428.43,314.80 431.20,312.50C433.97,310.20 439.03,306.17 440.60,304.90" stroke="#33cc33" stroke-width="2.1" fill="none" />
<path d="M386.40,341.60C387.10,339.83 389.13,331.68 390.60,331.00C392.07,330.32 393.45,334.65 395.20,337.50C396.95,340.35 399.72,346.90 401.10,348.10C402.48,349.30 401.65,350.88 403.50,344.70C405.35,338.52 409.37,310.88 412.20,311.00C415.03,311.12 418.48,338.48 420.50,345.40C422.52,352.32 422.90,352.00 424.30,352.50C425.70,353.00 426.70,351.05 428.90,348.40C431.10,345.75 436.07,338.57 437.50,336.60" stroke="#cccc00" stroke-width="2.1" fill="none" />
<circle cx="383.3" cy="318.8" r="0.8" fill="#000"/>
<circle cx="392.9" cy="324.2" r="0.8" fill="#000"/>
<circle cx="402.3" cy="312.5" r="0.8" fill="#000"/>
<circle cx="411.4" cy="299.4" r="0.8" fill="#000"/>
<circle cx="421.3" cy="316.6" r="0.8" fill="#000"/>
<circle cx="431.2" cy="312.5" r="0.8" fill="#000"/>
<circle cx="440.6" cy="304.9" r="0.8" fill="#000"/>
<circle cx="386.4" cy="341.6" r="0.8" fill="#000"/>
<circle cx="395.2" cy="337.5" r="0.8" fill="#000"/>
<circle cx="403.5" cy="344.7" r="0.8" fill="#000"/>
<circle cx="412.2" cy="311" r="0.8" fill="#000"/>
<circle cx="420.5" cy="345.4" r="0.8" fill="#000"/>
<circle cx="428.9" cy="348.4" r="0.8" fill="#000"/>
<circle cx="437.5" cy="336.6" r="0.8" fill="#000"/>
<text x="482.70" y="225.80" font-size="16" font-weight="bold" fill="#000" text-anchor="start" >E</text>
<rect x="516.1" y="278" width="30.6" height="144" rx="3" fill="#eeeeee"/>
<rect x="516.80" y="229.10" width="33.50" height="1.60" fill="#000" />
<circle cx="533.4" cy="229.9" r="2.7" fill="#000"/>
<rect x="516.80" y="240.90" width="5.20" height="1.60" fill="#000" />
<rect x="526.20" y="240.90" width="15.30" height="1.60" fill="#000" />
<rect x="545.90" y="240.90" width="4.40" height="1.60" fill="#000" />
<rect x="531.10" y="239.20" width="4.80" height="5.00" fill="#000" />
<rect x="516.75" y="252.40" width="1.50" height="1.50" fill="#000" />
<rect x="521.65" y="252.40" width="1.50" height="1.50" fill="#000" />
<rect x="526.65" y="252.40" width="1.50" height="1.50" fill="#000" />
<rect x="537.55" y="252.40" width="1.50" height="1.50" fill="#000" />
<rect x="542.55" y="252.40" width="1.50" height="1.50" fill="#000" />
<rect x="547.45" y="252.40" width="1.50" height="1.50" fill="#000" />
<polygon points="533.50,249.40 536.70,255.70 530.40,255.70" fill="#000" />
<text x="584.45" y="233.60" font-size="10" font-weight="normal" fill="#222" text-anchor="middle" textLength="58.40" lengthAdjust="spacingAndGlyphs" >Signal (SRG)</text>
<text x="581.90" y="245.30" font-size="10" font-weight="normal" fill="#222" text-anchor="middle" textLength="53.30" lengthAdjust="spacingAndGlyphs" >Background</text>
<text x="613.65" y="257.00" font-size="10" font-weight="normal" fill="#222" text-anchor="middle" textLength="116.80" lengthAdjust="spacingAndGlyphs" >Signal-to-background ratio</text>
<text x="530.90" y="273.20" font-size="11" font-weight="bold" fill="#808080" text-anchor="middle" textLength="42.79" lengthAdjust="spacingAndGlyphs" >ER-SRS</text>
<text x="611.85" y="273.20" font-size="11" font-weight="bold" fill="#808080" text-anchor="middle" textLength="50.29" lengthAdjust="spacingAndGlyphs" >EPR-SRS</text>
<rect x="514.20" y="277.00" width="1.90" height="146.50" fill="#222" />
<rect x="511.10" y="276.80" width="148.50" height="1.30" fill="#222" />
<rect x="658.30" y="276.50" width="1.50" height="148.00" fill="#222" />
<rect x="514.20" y="421.90" width="144.80" height="1.60" fill="#222" />
<rect x="511.10" y="276.80" width="3.50" height="1.40" fill="#222" />
<text x="502.50" y="284.70" font-size="10" font-weight="normal" fill="#333" text-anchor="middle" textLength="14.30" lengthAdjust="spacingAndGlyphs" >0.5</text>
<rect x="511.10" y="305.90" width="3.50" height="1.40" fill="#222" />
<text x="502.50" y="310.20" font-size="10" font-weight="normal" fill="#333" text-anchor="middle" textLength="14.30" lengthAdjust="spacingAndGlyphs" >0.4</text>
<rect x="511.10" y="334.80" width="3.50" height="1.40" fill="#222" />
<text x="502.50" y="339.00" font-size="10" font-weight="normal" fill="#333" text-anchor="middle" textLength="14.30" lengthAdjust="spacingAndGlyphs" >0.3</text>
<rect x="511.10" y="363.90" width="3.50" height="1.40" fill="#222" />
<text x="502.50" y="368.20" font-size="10" font-weight="normal" fill="#333" text-anchor="middle" textLength="14.30" lengthAdjust="spacingAndGlyphs" >0.2</text>
<rect x="511.10" y="392.90" width="3.50" height="1.40" fill="#222" />
<text x="502.50" y="397.20" font-size="10" font-weight="normal" fill="#333" text-anchor="middle" textLength="14.30" lengthAdjust="spacingAndGlyphs" >0.1</text>
<rect x="511.10" y="422.00" width="3.50" height="1.40" fill="#222" />
<text x="502.50" y="426.90" font-size="10" font-weight="normal" fill="#333" text-anchor="middle" textLength="14.30" lengthAdjust="spacingAndGlyphs" >0.0</text>
<rect x="659.80" y="280.65" width="3.50" height="1.50" fill="#222" />
<text x="667.90" y="284.80" font-size="10" font-weight="normal" fill="#333" text-anchor="middle" textLength="6.30" lengthAdjust="spacingAndGlyphs" >3</text>
<rect x="659.80" y="326.55" width="3.50" height="1.50" fill="#222" />
<text x="667.90" y="330.70" font-size="10" font-weight="normal" fill="#333" text-anchor="middle" textLength="6.30" lengthAdjust="spacingAndGlyphs" >2</text>
<rect x="659.80" y="371.95" width="3.50" height="1.50" fill="#222" />
<text x="667.90" y="376.10" font-size="10" font-weight="normal" fill="#333" text-anchor="middle" textLength="6.30" lengthAdjust="spacingAndGlyphs" >1</text>
<rect x="659.80" y="417.45" width="3.50" height="1.50" fill="#222" />
<text x="667.90" y="421.60" font-size="10" font-weight="normal" fill="#333" text-anchor="middle" textLength="6.30" lengthAdjust="spacingAndGlyphs" >0</text>
<rect x="514.45" y="423.00" width="1.50" height="3.50" fill="#222" />
<text x="514.60" y="438.50" font-size="10" font-weight="normal" fill="#333" text-anchor="middle" textLength="6.10" lengthAdjust="spacingAndGlyphs" >0</text>
<rect x="539.45" y="423.00" width="1.50" height="3.50" fill="#222" />
<text x="540.40" y="438.50" font-size="10" font-weight="normal" fill="#333" text-anchor="middle" textLength="11.30" lengthAdjust="spacingAndGlyphs" >16</text>
<rect x="595.05" y="423.00" width="1.50" height="3.50" fill="#222" />
<text x="596.00" y="438.50" font-size="10" font-weight="normal" fill="#333" text-anchor="middle" textLength="11.30" lengthAdjust="spacingAndGlyphs" >54</text>
<rect x="652.65" y="423.00" width="1.50" height="3.50" fill="#222" />
<text x="653.30" y="438.50" font-size="10" font-weight="normal" fill="#333" text-anchor="middle" textLength="11.30" lengthAdjust="spacingAndGlyphs" >96</text>
<text transform="translate(492.00,350.10) rotate(-90)" x="0" y="0" font-size="10" font-weight="normal" fill="#222" text-anchor="middle" textLength="63.30" lengthAdjust="spacingAndGlyphs" >Intensity (a.u.)</text>
<text transform="translate(681.80,350.60) rotate(-90)" x="0" y="0" font-size="9.8" font-weight="normal" fill="#333" text-anchor="middle" textLength="116.00" lengthAdjust="spacingAndGlyphs" >Signal-to-background ratio</text>
<text x="557.20" y="456.70" font-size="10" font-weight="normal" fill="#333" text-anchor="start" textLength="62.30" lengthAdjust="spacingAndGlyphs" ><tspan font-style="italic">λ</tspan><tspan font-size="7.5" dy="2">max</tspan><tspan dy="-2"> + X (nm)</tspan></text>
<path d="M518,391.5 L540.5,298.7 L594,422 L653,422.3" stroke="#000" stroke-width="1.6" fill="none" />
<path d="M518,392 L540.5,305.2 L594,422 L653,422.3" stroke="#000" stroke-width="1.6" fill="none" stroke-dasharray="8 5"/>
<path d="M518,419.6 L540.5,414 L594,395.7 L653.4,281.2" stroke="#000" stroke-width="1.8" fill="none" stroke-dasharray="1.6 3.7"/>
<circle cx="518" cy="391.5" r="2.7" fill="#000"/>
<circle cx="540.5" cy="298.7" r="2.7" fill="#000"/>
<circle cx="594" cy="422" r="2.7" fill="#000"/>
<circle cx="653" cy="422.3" r="2.7" fill="#000"/>
<rect x="515.15" y="389.15" width="5.70" height="5.70" fill="#000" />
<rect x="537.65" y="302.35" width="5.70" height="5.70" fill="#000" />
<rect x="591.15" y="419.15" width="5.70" height="5.70" fill="#000" />
<rect x="650.15" y="419.45" width="5.70" height="5.70" fill="#000" />
<polygon points="518.00,416.30 521.40,421.90 514.60,421.90" fill="#000" />
<polygon points="540.50,410.70 543.90,416.30 537.10,416.30" fill="#000" />
<polygon points="594.00,392.40 597.40,398.00 590.60,398.00" fill="#000" />
<polygon points="653.40,277.90 656.80,283.50 650.00,283.50" fill="#000" />
</svg></body></html>
